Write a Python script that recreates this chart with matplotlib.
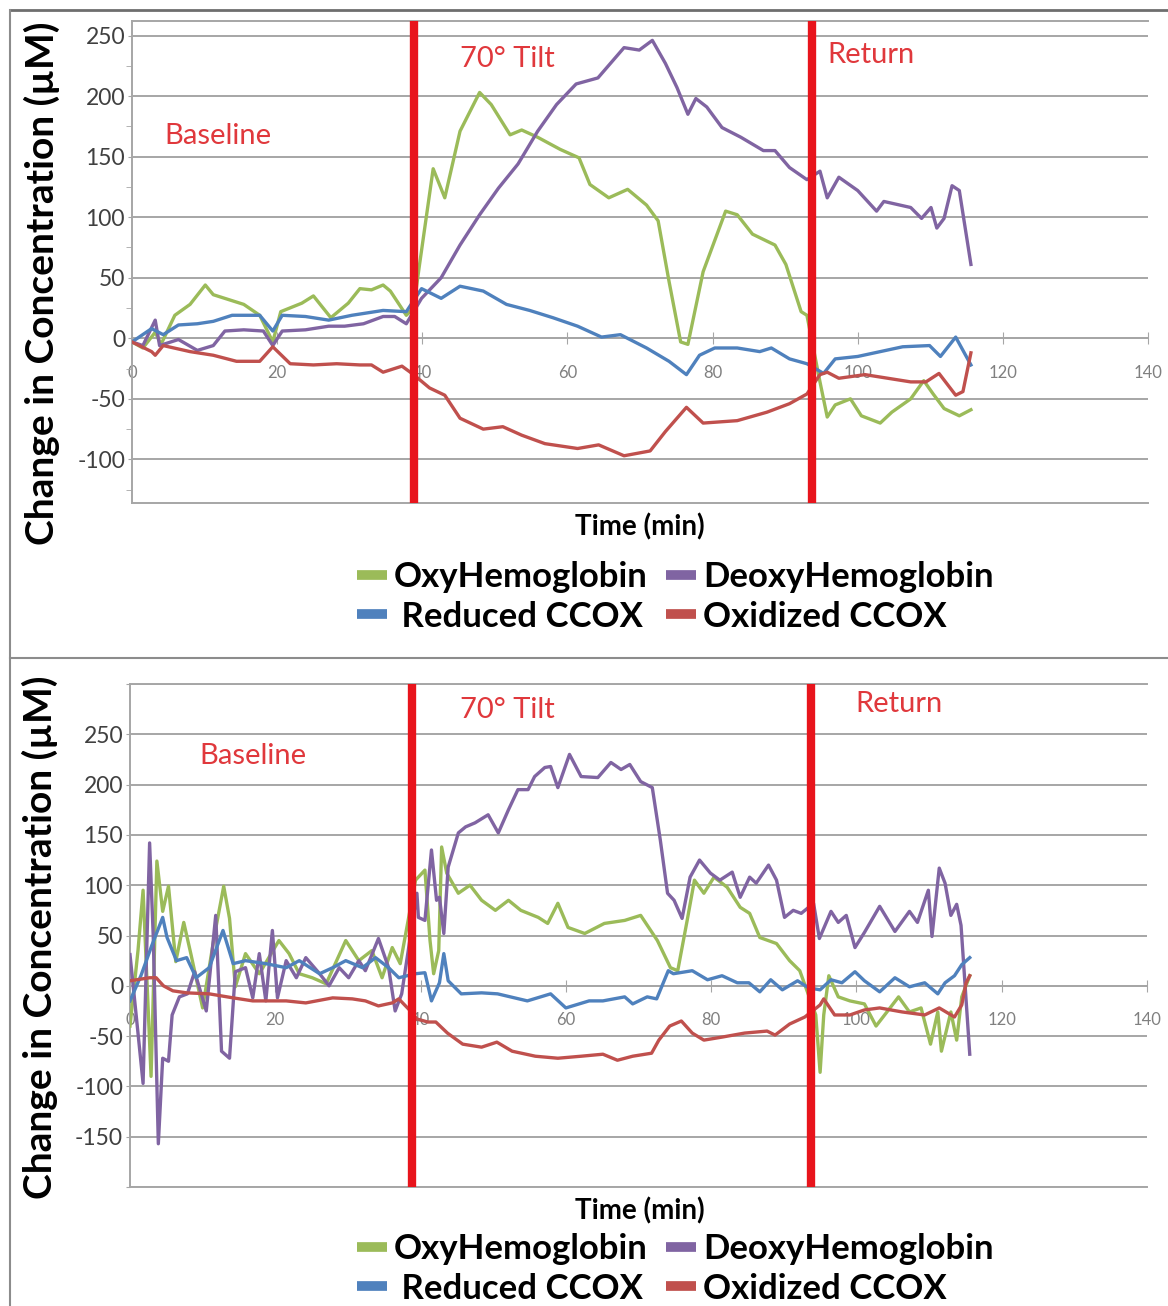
import matplotlib
matplotlib.use('Agg')
import matplotlib.pyplot as plt
from matplotlib.lines import Line2D

plt.rcParams['font.family'] = ['Lato', 'DejaVu Sans']

# --- data (time in min, change in uM) ---

# top panel
top_oxy_x = [0, 1.5, 3.2, 4.0, 5.9, 8.0, 10.1, 11.2, 13.3, 15.4, 17.6, 19.4, 20.5, 23.4, 25.0, 27.4,
             29.8, 31.4, 33.0, 34.6, 35.6, 37.8, 38.8, 39.6, 41.5, 43.1, 45.2, 47.9, 49.5, 52.1, 53.7,
             55.9, 59.0, 61.6, 63.1, 65.7, 68.3, 70.9, 72.5, 74.0, 75.6, 76.6, 78.7, 81.8, 83.4, 85.5,
             88.6, 90.1, 92.2, 93.0, 94.8, 95.8, 96.9, 99.0, 100.5, 103.1, 104.7, 107.3, 109.1, 110.4,
             111.9, 114.0, 115.6]
top_oxy_y = [-3, -8, 5, -5, 19, 28, 44, 36, 32, 28, 19, -3, 22, 29, 35, 17,
             29, 41, 40, 44, 39, 19, 25, 60, 140, 116, 171, 203, 193, 168, 172,
             166, 156, 149, 127, 116, 123, 110, 97, 47, -3, -5, 55, 105, 102, 86,
             77, 61, 22, 19, -36, -65, -55, -50, -64, -70, -61, -50, -35, -46,
             -58, -64, -59]

top_deoxy_x = [0, 1.5, 3.2, 3.8, 6.4, 9.0, 11.2, 12.8, 15.4, 18.1, 19.4, 20.7, 23.9, 27.1, 29.3, 31.9,
               34.6, 36.2, 37.8, 39.9, 42.6, 45.2, 47.9, 50.5, 53.2, 55.9, 58.5, 61.2, 64.2, 67.8, 69.9,
               71.7, 73.5, 75.1, 76.6, 77.7, 79.2, 81.3, 83.9, 87.0, 88.6, 90.6, 93.0, 94.8, 95.8, 97.4,
               100.0, 102.6, 103.6, 107.3, 108.8, 110.1, 110.9, 111.9, 113.0, 114.0, 115.6]
top_deoxy_y = [-3, -6, 15, -6, -1, -10, -6, 6, 7, 6, -6, 6, 7, 10, 10, 12,
               18, 18, 12, 33, 50, 77, 102, 124, 144, 171, 193, 210, 215, 240, 238,
               246, 227, 207, 185, 198, 191, 174, 166, 155, 155, 141, 131, 138, 116, 133,
               122, 105, 113, 108, 99, 108, 91, 99, 126, 122, 61]

top_red_x = [0, 2.7, 4.3, 6.4, 9.0, 11.2, 13.8, 17.6, 19.4, 20.7, 23.9, 27.1, 30.3, 34.6, 37.8, 39.9,
             42.6, 45.2, 48.4, 51.6, 54.8, 58.0, 61.4, 64.7, 67.3, 70.9, 74.0, 76.4, 78.2, 80.3, 83.4,
             86.5, 88.1, 90.6, 93.0, 95.3, 96.9, 100.0, 103.1, 106.2, 109.9, 111.4, 113.5, 115.6]
top_red_y = [-3, 8, 3, 11, 12, 14, 19, 19, 6, 19, 18, 15, 19, 23, 22, 41,
             33, 43, 39, 28, 23, 17, 10, 1, 3, -8, -19, -30, -14, -8, -8,
             -11, -8, -17, -21, -29, -17, -15, -11, -7, -6, -15, 1, -22]

top_ox_x = [0, 2.7, 3.2, 4.3, 8.0, 11.2, 14.4, 17.6, 19.4, 21.8, 25.0, 28.2, 31.4, 33.0, 34.6, 37.2,
            38.8, 41.0, 43.1, 45.2, 48.4, 51.1, 53.7, 56.9, 61.4, 64.3, 67.8, 71.4, 73.5, 76.4, 78.7,
            83.4, 87.5, 90.6, 93.0, 94.8, 95.8, 97.4, 101.0, 103.1, 107.3, 109.4, 111.2, 113.5, 114.5,
            115.6]
top_ox_y = [-3, -11, -14, -6, -11, -14, -19, -19, -7, -21, -22, -21, -22, -22, -28, -23,
            -30, -41, -47, -66, -75, -73, -80, -87, -91, -88, -97, -93, -77, -57, -70,
            -68, -61, -54, -46, -30, -28, -33, -30, -32, -36, -36, -29, -47, -44,
            -12]

# bottom panel
bot_oxy_x = [0, 1.1, 1.8, 2.9, 3.7, 4.5, 5.3, 6.3, 7.4, 8.4, 10.0, 11.6, 12.9, 13.7, 14.5, 15.9, 17.8,
             20.5, 21.9, 23.3, 25.1, 27.0, 29.7, 31.5, 33.3, 34.7, 36.1, 37.2, 39.3, 40.6, 41.3, 41.8,
             42.5, 42.9, 43.6, 45.2, 46.8, 48.4, 50.3, 52.1, 53.8, 56.2, 57.5, 58.9, 60.3, 62.6, 65.3,
             68.1, 70.3, 72.6, 74.4, 75.4, 76.7, 77.7, 79.0, 80.4, 82.2, 84.0, 85.3, 86.7, 89.0, 90.8,
             92.2, 94.4, 95.0, 95.5, 96.2, 97.5, 99.1, 101.1, 102.7, 104.2, 105.8, 107.3, 108.9, 110.2,
             111.2, 111.7, 113.0, 113.8, 114.5, 115.6]
bot_oxy_y = [-40, 35, 95, -90, 124, 74, 99, 24, 63, 31, -22, 49, 99, 67, -1, 32, 12,
             45, 32, 12, 8, 2, 45, 25, 35, 8, 38, 22, 105, 115, 45, 12,
             35, 138, 112, 92, 100, 85, 75, 85, 75, 68, 62, 82, 58, 52, 62,
             65, 70, 45, 18, 15, 65, 105, 92, 108, 98, 78, 72, 48, 42, 25,
             15, -29, -86, -29, 10, -11, -15, -18, -40, -26, -11, -26, -22, -58,
             -26, -65, -26, -54, -11, 10]

bot_deoxy_x = [0, 1.1, 1.8, 2.7, 3.2, 3.9, 4.5, 5.3, 5.8, 6.8, 7.9, 8.9, 10.5, 11.8, 12.6, 13.7, 14.5,
               15.9, 16.9, 17.8, 18.7, 19.6, 20.3, 21.5, 22.9, 24.2, 26.1, 27.4, 28.8, 30.1, 31.5, 32.4,
               34.2, 35.6, 36.5, 37.4, 39.5, 39.7, 40.6, 41.5, 42.2, 42.6, 43.2, 43.8, 45.2, 46.2, 47.5,
               49.3, 50.7, 52.1, 53.4, 54.8, 55.7, 57.1, 57.9, 58.9, 60.5, 62.1, 64.4, 66.2, 67.6, 68.8,
               70.3, 71.9, 73.0, 74.0, 74.9, 76.0, 77.1, 78.4, 79.9, 81.2, 82.9, 84.0, 85.3, 86.2, 87.9,
               89.0, 90.1, 91.3, 92.4, 94.1, 94.9, 96.5, 97.5, 98.6, 99.8, 101.1, 103.2, 105.3, 107.3,
               108.4, 109.9, 110.4, 111.4, 112.2, 113.0, 113.8, 114.4, 115.6]
bot_deoxy_y = [31, -47, -97, 142, 49, -157, -72, -75, -29, -11, -8, 14, -25, 70, -65, -72, 14,
               18, -12, 32, -15, 55, -12, 25, 8, 28, 12, 0, 18, 8, 25, 15,
               47, 18, -25, -8, 92, 68, 65, 135, 85, 88, 52, 118, 152, 158, 162,
               170, 152, 175, 195, 195, 208, 217, 218, 197, 230, 208, 207, 222, 215, 220,
               203, 197, 145, 92, 85, 67, 108, 125, 112, 105, 113, 88, 108, 102, 120,
               105, 68, 75, 72, 82, 47, 74, 63, 70, 38, 53, 79, 54, 74,
               63, 95, 49, 117, 102, 70, 81, 60, -68]

bot_red_x = [0, 1.5, 3.0, 4.5, 5.1, 6.4, 7.8, 9.1, 10.9, 12.8, 14.2, 15.9, 18.7, 21.5, 23.3, 26.1,
             27.9, 29.7, 32.0, 33.8, 35.6, 37.0, 39.3, 40.6, 41.5, 42.6, 43.2, 43.8, 45.6, 48.4, 50.6,
             54.7, 57.9, 60.0, 63.2, 65.1, 68.1, 69.2, 71.2, 72.5, 74.1, 74.8, 77.4, 79.5, 81.5, 83.6,
             85.2, 86.7, 88.2, 89.8, 91.9, 93.4, 95.0, 96.5, 98.0, 99.8, 101.1, 103.2, 105.3, 107.3,
             109.4, 111.2, 112.2, 113.5, 114.5, 115.6]
bot_red_y = [-15, 10, 40, 68, 48, 25, 28, 8, 18, 55, 22, 25, 22, 18, 25, 12,
             18, 25, 18, 28, 18, 8, 12, 13, -15, 3, 32, 5, -8, -7, -8,
             -15, -8, -22, -15, -15, -11, -18, -11, -13, 15, 12, 15, 6, 10, 3,
             3, -6, 6, -4, 5, -2, -4, 6, 3, 14, 5, -6, 8, -1,
             3, -8, 3, 10, 21, 28]

bot_ox_x = [0, 2.7, 3.6, 4.6, 5.9, 7.8, 10.9, 14.2, 16.9, 21.5, 24.2, 27.9, 30.6, 32.4, 34.2, 36.1,
            37.0, 38.6, 39.5, 41.0, 42.1, 43.7, 45.8, 48.4, 50.5, 52.6, 55.8, 58.9, 62.1, 65.1, 67.1,
            69.2, 71.8, 72.8, 74.3, 75.9, 77.4, 79.0, 81.5, 84.6, 87.7, 88.8, 90.8, 92.9, 95.0, 95.5,
            97.0, 99.1, 101.1, 103.2, 106.3, 109.4, 111.4, 113.5, 114.5, 115.1, 115.6]
bot_ox_y = [5, 8, 8, 0, -5, -7, -8, -12, -15, -15, -17, -12, -13, -15, -20, -17,
            -13, -25, -33, -36, -36, -47, -58, -61, -56, -65, -70, -72, -70, -68, -74,
            -70, -67, -54, -40, -35, -47, -54, -51, -47, -45, -49, -38, -31, -19, -13,
            -29, -29, -24, -22, -26, -29, -22, -31, -19, 3, 10]

series_names = ['OxyHemoglobin', 'DeoxyHemoglobin', ' Reduced CCOX', 'Oxidized CCOX']
series_colors = ['#9BBB59', '#8064A2', '#4F81BD', '#C0504D']

x_ticks = [0, 20, 40, 60, 80, 100, 120, 140]
top_y_ticks = [-100, -50, 0, 50, 100, 150, 200, 250]
bot_y_ticks = [-200, -150, -100, -50, 0, 50, 100, 150, 200, 250, 300]
bot_y_labels = ['', '-150', '-100', '-50', '0', '50', '100', '150', '200', '250', '']

tilt_time = 38.8
return_time = 93.7

W, H = 1168, 1306
fig = plt.figure(figsize=(W / 100, H / 100), dpi=100)


def px_axes(left, top, right, bottom):
    return fig.add_axes([left / W, 1 - bottom / H, (right - left) / W, (bottom - top) / H])


def panel(ax, data, ylim, yticks, ylabels, label_y, texts, minor=False):
    grid_c = '#a6a6a6'
    for (xs, ys), c in zip(data, series_colors):
        ax.plot(xs, ys, color=c, lw=2.4, zorder=3)
    ax.set_xlim(0, 140)
    ax.set_ylim(*ylim)
    ax.set_yticks(yticks)
    ax.set_yticklabels(ylabels)
    ax.set_xticks(x_ticks)
    ax.set_xticklabels([str(t) for t in x_ticks])
    ax.yaxis.grid(True, color=grid_c, lw=1.4)
    ax.set_axisbelow(True)
    ax.spines['right'].set_visible(False)
    for s in ['left', 'top', 'bottom']:
        ax.spines[s].set_color(grid_c)
        ax.spines[s].set_linewidth(1.4)
    ax.spines['bottom'].set_position(('data', 0))
    ax.plot([0, 1], [0, 0], transform=ax.transAxes, color=grid_c, lw=1.4, clip_on=False)
    ax.tick_params(axis='y', labelsize=16.5, labelcolor='#404040', color=grid_c, length=3, pad=2)
    ax.tick_params(axis='x', labelsize=12, labelcolor='#808080', color=grid_c,
                   direction='inout', length=8, pad=15)
    if minor:
        ax.set_yticks([t + 25 for t in yticks[:-1]] + [yticks[0] - 25], minor=True)
        ax.tick_params(axis='y', which='minor', color=grid_c, length=4)
    ax.axvline(tilt_time, color='#E8141C', lw=6, zorder=5)
    ax.axvline(return_time, color='#E8141C', lw=6, zorder=5)
    for tx, ty, s in texts:
        ax.text(tx, ty, s, color='#E0383C', fontsize=21, ha='center', va='center')
    ax.set_ylabel('Change in Concentration (\u00b5M)', fontsize=28, fontweight='bold')
    ax.yaxis.set_label_coords(-0.071, label_y)


ax1 = px_axes(132, 21, 1148, 503)
panel(ax1,
      [(top_oxy_x, top_oxy_y), (top_deoxy_x, top_deoxy_y), (top_red_x, top_red_y), (top_ox_x, top_ox_y)],
      (-136, 262), top_y_ticks, [str(t) for t in top_y_ticks], 0.456,
      [(11.9, 167, 'Baseline'), (51.7, 231, '70\u00b0 Tilt'), (101.8, 234, 'Return')], minor=True)

ax2 = px_axes(130, 684, 1147, 1187)
panel(ax2,
      [(bot_oxy_x, bot_oxy_y), (bot_deoxy_x, bot_deoxy_y), (bot_red_x, bot_red_y), (bot_ox_x, bot_ox_y)],
      (-200, 300), bot_y_ticks, bot_y_labels, 0.497,
      [(16.9, 228, 'Baseline'), (51.9, 274, '70\u00b0 Tilt'), (105.9, 280, 'Return')])

# axis titles and legends
for ty, ly in [(527, 561), (1211, 1233)]:
    fig.text(640 / W, 1 - ty / H, 'Time (min)', fontsize=20, fontweight='bold', ha='center', va='center')
    handles = [Line2D([], [], color=c, lw=7, solid_capstyle='butt') for c in series_colors]
    order = [0, 2, 1, 3]
    fig.legend([handles[i] for i in order], [series_names[i] for i in order], ncol=2,
               loc='upper left', bbox_to_anchor=(357 / W, 1 - ly / H), frameon=False,
               prop={'size': 25, 'weight': 'bold'}, handlelength=0.85, handletextpad=0.2,
               columnspacing=0.55, labelspacing=0.22, borderpad=0, borderaxespad=0)

# panel frames
frame_c = '#8c8c8c'
fig.add_artist(Line2D([10 / W, 1], [1 - 10 / H, 1 - 10 / H], transform=fig.transFigure, color='#6e6e6e', lw=2))
fig.add_artist(Line2D([10 / W, 10 / W], [0, 1 - 10 / H], transform=fig.transFigure, color=frame_c, lw=1.5))
fig.add_artist(Line2D([10 / W, 1], [1 - 658 / H, 1 - 658 / H], transform=fig.transFigure, color=frame_c, lw=1.5))

fig.savefig('out.png', dpi=100)
